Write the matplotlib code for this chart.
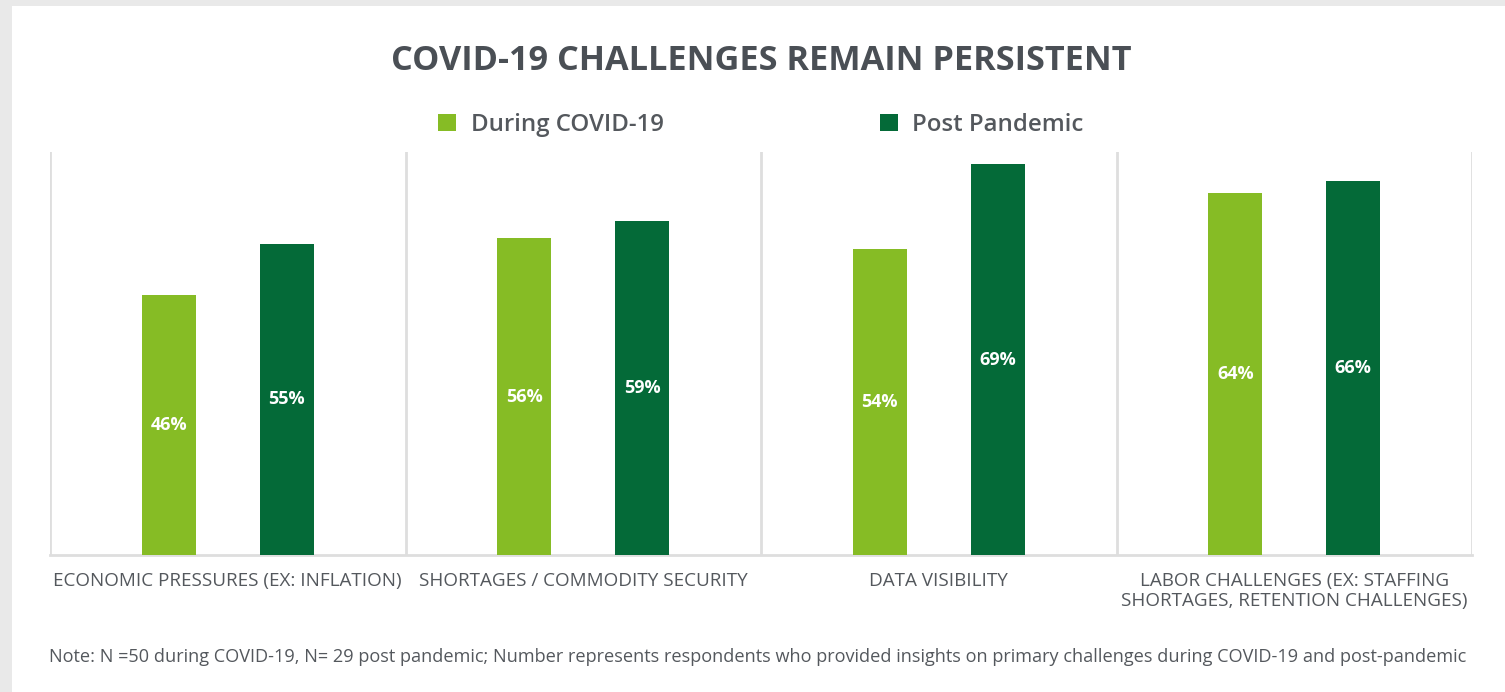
import numpy as np
import matplotlib.pyplot as plt
import matplotlib.patches as mpatches

plt.rcParams['font.family'] = ['Open Sans', 'DejaVu Sans']

categories = ['ECONOMIC PRESSURES (EX: INFLATION)',
              'SHORTAGES / COMMODITY SECURITY',
              'DATA VISIBILITY',
              'LABOR CHALLENGES (EX: STAFFING\nSHORTAGES, RETENTION CHALLENGES)']
during = [46, 56, 54, 64]
post = [55, 59, 69, 66]
series_names = ['During COVID-19', 'Post Pandemic']

c_light = '#86bc25'
c_dark = '#046a38'
txt = '#54585d'
sep = '#dedede'

W, H = 1505, 692
fig = plt.figure(figsize=(W / 100, H / 100), dpi=100)
fig.patch.set_facecolor('#e9e9e9')
# white card (screenshot look)
fig.patches.append(mpatches.Rectangle((12 / W, 0), 1 - 12 / W, 1 - 6 / H,
                                      transform=fig.transFigure, facecolor='white',
                                      edgecolor='none', zorder=-5))

ax = fig.add_axes([50 / W, (H - 555) / H, (1472 - 50) / W, (555 - 152) / H])
ax.set_facecolor('none')

x = np.arange(len(categories))
bw = 0.152
off = 0.166
b1 = ax.bar(x - off, during, bw, color=c_light, label=series_names[0], zorder=3)
b2 = ax.bar(x + off, post, bw, color=c_dark, label=series_names[1], zorder=3)

for bars, vals in ((b1, during), (b2, post)):
    for b, v in zip(bars, vals):
        ax.text(b.get_x() + b.get_width() / 2, v / 2, f'{v}%', ha='center', va='center',
                color='white', fontsize=13, fontweight='bold', zorder=4)

ax.set_xlim(-0.5, len(categories) - 0.5)
ax.set_ylim(0, 71.2)
for xs in np.arange(-0.5, len(categories), 1.0):
    ax.axvline(xs, color=sep, lw=2, zorder=1)

for s in ['top', 'left', 'right']:
    ax.spines[s].set_visible(False)
ax.spines['bottom'].set_color(sep)
ax.spines['bottom'].set_linewidth(2)
ax.set_yticks([])
ax.set_xticks(x)
ax.set_xticklabels(categories, fontsize=13.6, color=txt, linespacing=1.2)
ax.tick_params(axis='x', length=0, pad=12)

fig.text(761 / W, 1 - 61 / H, 'COVID-19 CHALLENGES REMAIN PERSISTENT', ha='center', va='center',
         fontsize=24.7, fontweight='bold', color='#4a4f55')

leg = fig.legend(handles=[b1, b2], loc='center', bbox_to_anchor=(761 / W, 1 - 125 / H), ncol=2,
                 frameon=False, prop={'size': 17.3, 'weight': 'semibold'},
                 handlelength=0.75, handleheight=0.75,
                 handletextpad=0.6, columnspacing=9.0, labelcolor=txt)

fig.text(758 / W, 1 - 657 / H,
         'Note: N =50 during COVID-19, N= 29 post pandemic; Number represents respondents who provided '
         'insights on primary challenges during COVID-19 and post-pandemic',
         ha='center', va='center', fontsize=13.1, color=txt)

fig.savefig('out.png', dpi=100, facecolor=fig.get_facecolor())
